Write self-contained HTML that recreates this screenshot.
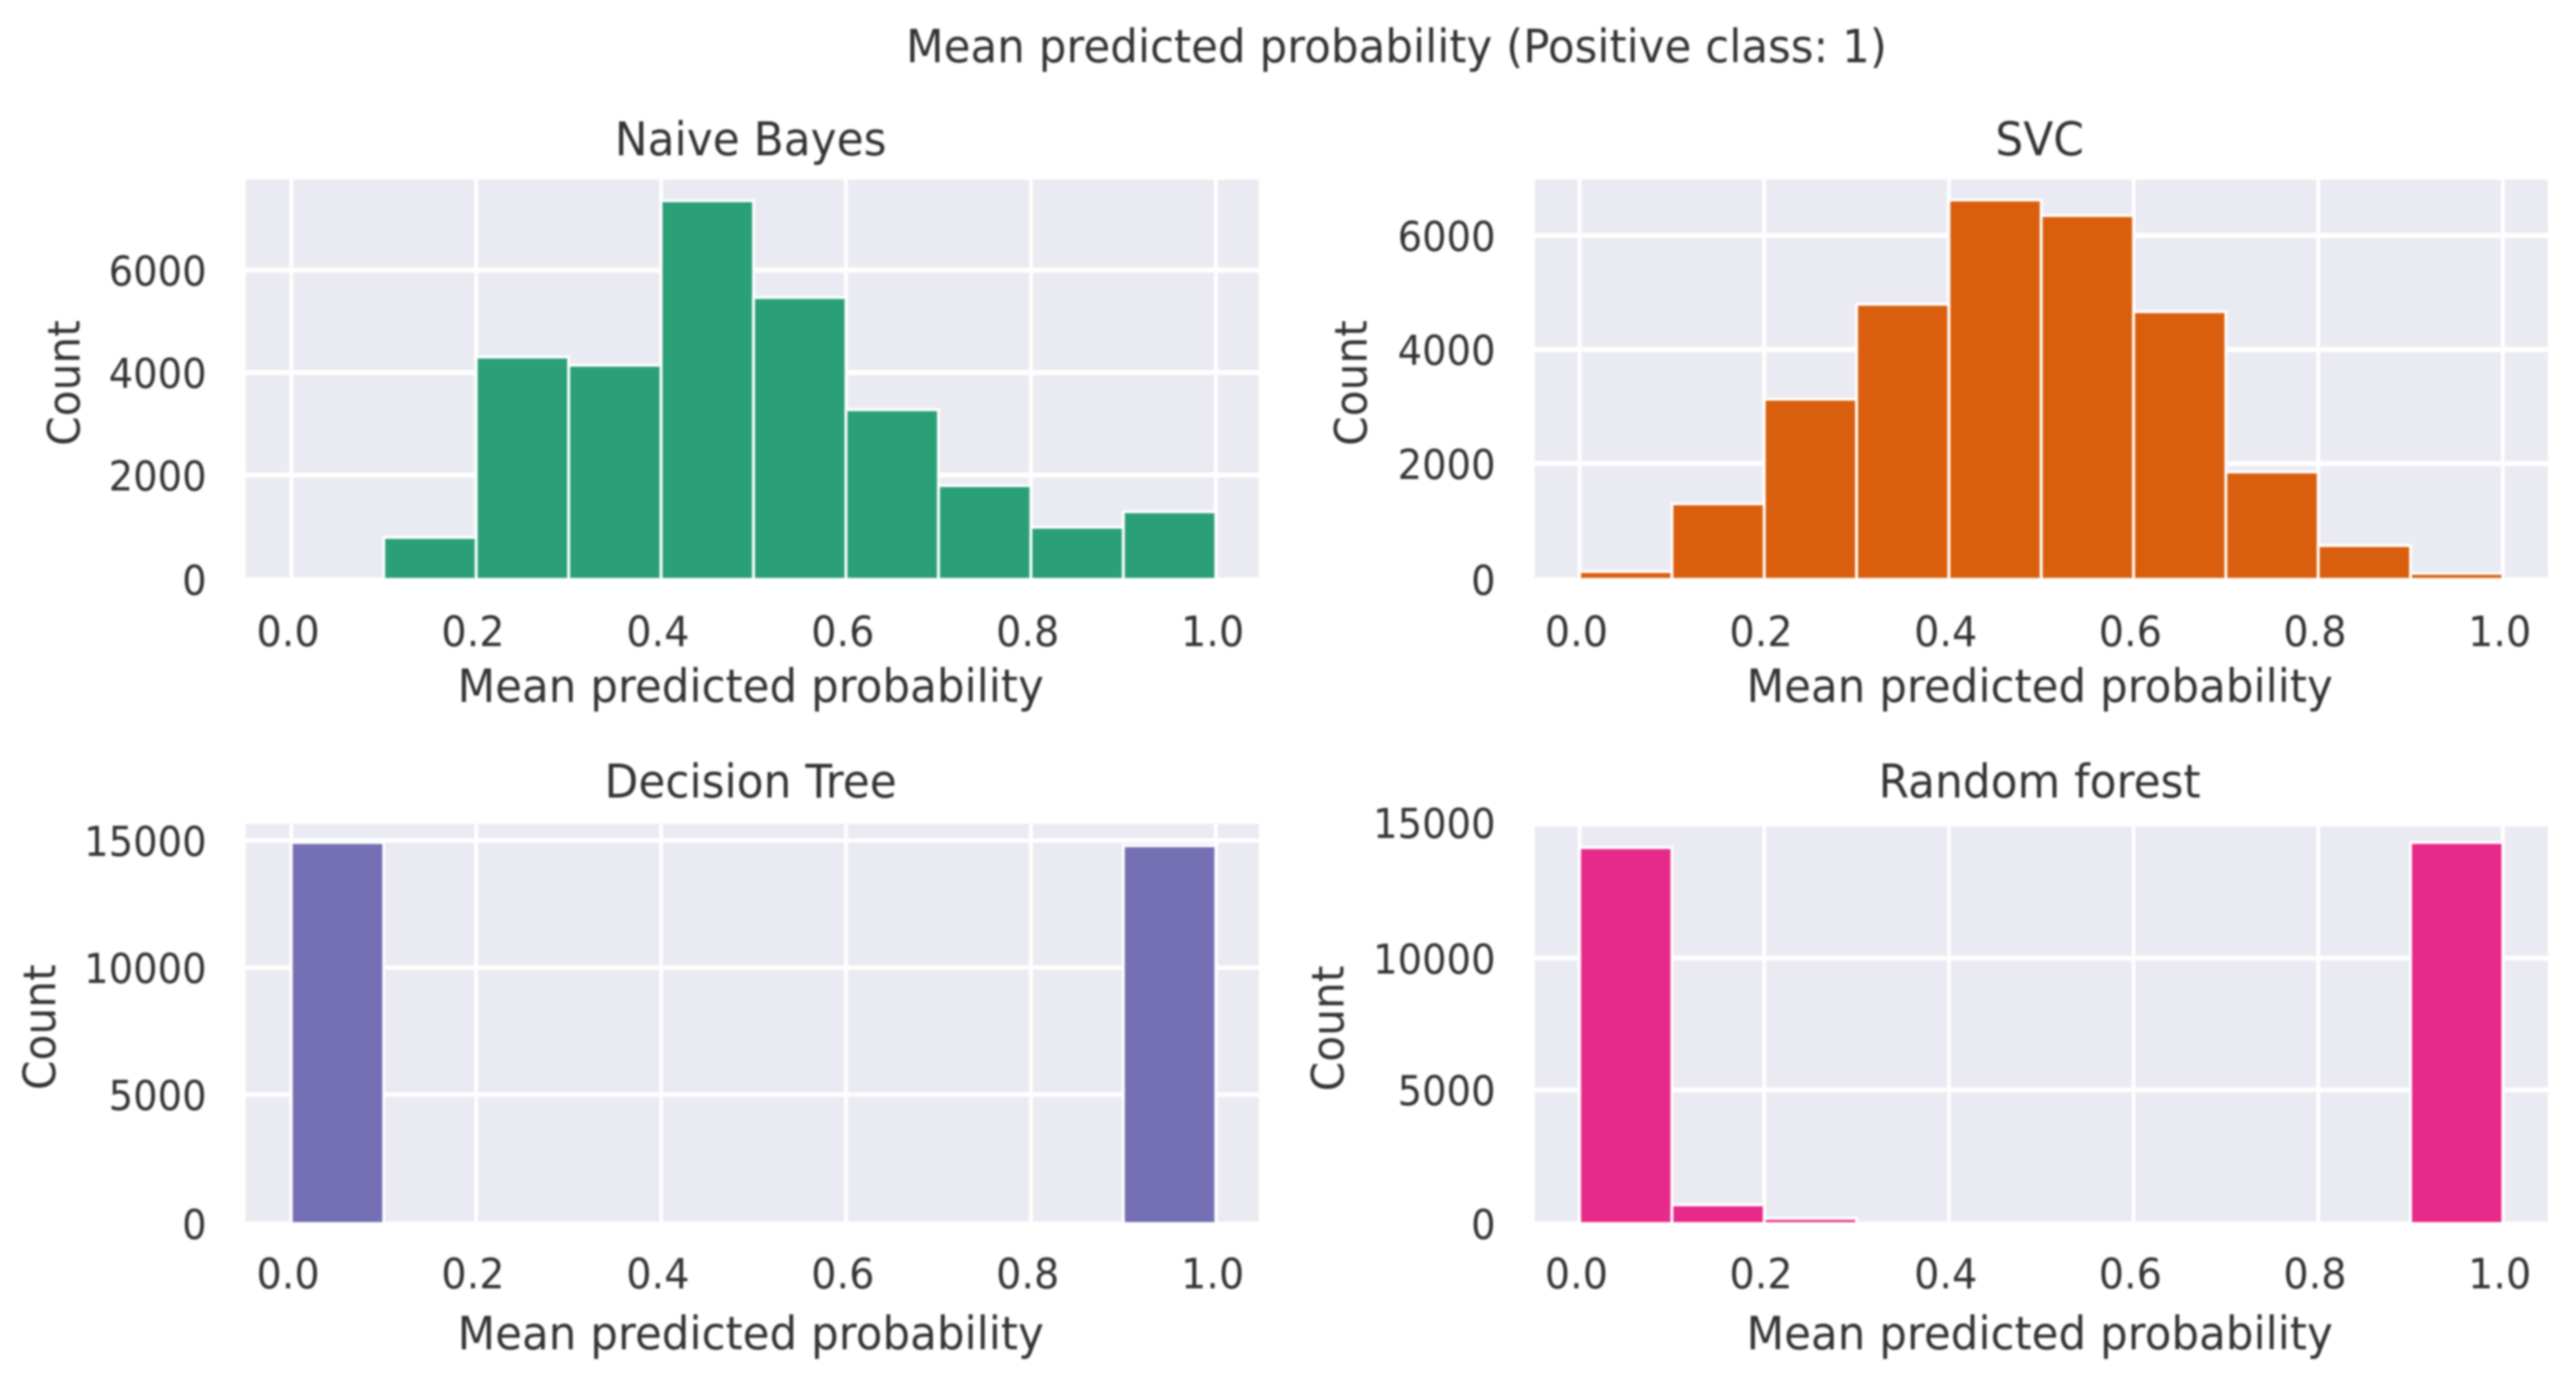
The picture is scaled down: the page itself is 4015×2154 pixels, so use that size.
<!DOCTYPE html>
<html lang="en">
<head>
<meta charset="utf-8">
<title>Mean predicted probability (Positive class: 1)</title>
<style>
  html, body { margin: 0; padding: 0; background: #ffffff; }
  body { width: 4015px; height: 2154px; overflow: hidden; }
  svg { display: block; filter: blur(1.6px); }
  text { font-family: "DejaVu Sans", "Liberation Sans", sans-serif; fill: #333333; }
</style>
</head>
<body>
<svg id="chart" xmlns="http://www.w3.org/2000/svg" width="4015" height="2154" viewBox="0 0 4015 2154">
  <text font-size="68" text-anchor="middle" transform="translate(2176.5 97) scale(1 1.05)">Mean predicted probability (Positive class: 1)</text>
</svg>
<script>
const binEdges = [0, 0.1, 0.2, 0.3, 0.4, 0.5, 0.6, 0.7, 0.8, 0.9, 1.0];
const xTickValues = [0, 0.2, 0.4, 0.6, 0.8, 1.0];
const xTickLabels = ["0.0", "0.2", "0.4", "0.6", "0.8", "1.0"];

const naiveBayesCounts = [0, 781, 4303, 4143, 7355, 5466, 3275, 1793, 980, 1283];
const svcCounts = [104, 1292, 3128, 4793, 6623, 6351, 4664, 1851, 560, 72];
const decisionTreeCounts = [14924, 0, 0, 0, 0, 0, 0, 0, 0, 14798];
const randomForestCounts = [14195, 637, 120, 0, 0, 0, 0, 0, 0, 14390];

const naiveBayesYTicks = [0, 2000, 4000, 6000];
const svcYTicks = [0, 2000, 4000, 6000];
const decisionTreeYTicks = [0, 5000, 10000, 15000];
const randomForestYTicks = [0, 5000, 10000, 15000];

const naiveBayesYMax = 7766;
const svcYMax = 6980;
const decisionTreeYMax = 15660;
const randomForestYMax = 15000;

const SVG_NS = "http://www.w3.org/2000/svg";
const chart = document.getElementById("chart");

function makeEl(tag, attrs, parent) {
  const node = document.createElementNS(SVG_NS, tag);
  Object.keys(attrs).forEach(function (k) { node.setAttribute(k, attrs[k]); });
  parent.appendChild(node);
  return node;
}

function textAt(x, y, size, anchor, stretch, parent) {
  return makeEl("text", { "font-size": size, "text-anchor": anchor, transform: "translate(" + x + " " + y + ") scale(1 " + stretch + ")" }, parent);
}

function drawPanel(opts) {
  const xScale = function (v) { return opts.x0 + v * (opts.x1 - opts.x0); };
  const yScale = function (v) { return opts.bottom - (v / opts.yMax) * (opts.bottom - opts.top); };
  const centerX = (opts.left + opts.right) / 2 - 2.5;

  const group = makeEl("g", {}, chart);
  
  

  const plotArea = makeEl("rect", { x: opts.left, y: opts.top, width: opts.right - opts.left, height: opts.bottom - opts.top, fill: "#eaeaf2" }, group);
  
  

  xTickValues.forEach(function (v, i) {
    const line = makeEl("line", { x1: xScale(v), x2: xScale(v), y1: opts.top, y2: opts.bottom, stroke: "#ffffff", "stroke-width": 6 }, group);
    
    

    const label = textAt(xScale(v) - 5, opts.xTickBaseline, 62, "middle", 1.05, group);
    label.textContent = xTickLabels[i];
    
    
  });

  opts.yTicks.forEach(function (v) {
    if (v > 0 && v < opts.yMax) {
      const line = makeEl("line", { x1: opts.left, x2: opts.right, y1: yScale(v), y2: yScale(v), stroke: "#ffffff", "stroke-width": opts.gridWidth }, group);
      
      
    }
    const baselineShift = v === 0 ? 27 : (v >= opts.yMax ? 18 : 24);
    const label = textAt(opts.yLabelRight, yScale(v) + baselineShift, 60, "end", 1.07, group);
    label.textContent = String(v);
    
    
  });

  opts.counts.forEach(function (count, i) {
    if (count <= 0) { return; }
    const barX = xScale(binEdges[i]);
    const barTop = yScale(count);
    const bar = makeEl("rect", { x: barX, y: barTop, width: xScale(binEdges[i + 1]) - barX, height: opts.bottom + 3 - barTop, fill: opts.color, stroke: "#ffffff", "stroke-width": 4.5 }, group);
    
    
  });

  const title = textAt(centerX, opts.titleBaseline, 68.4, "middle", 1.05, group);
  title.textContent = opts.title;
  
  

  const xLabel = textAt(centerX, opts.xLabelBaseline, 68, "middle", 1.05, group);
  xLabel.textContent = "Mean predicted probability";
  
  

  const yLabelY = (opts.top + opts.bottom) / 2 + 7;
  const yLabel = makeEl("text", { "font-size": 66, "text-anchor": "middle", transform: "translate(" + opts.yTitleX + " " + yLabelY + ") rotate(-90) scale(1 1.05)" }, group);
  yLabel.textContent = "Count";
  
  
}

drawPanel({ name: "naive-bayes", title: "Naive Bayes", counts: naiveBayesCounts, yTicks: naiveBayesYTicks, yMax: naiveBayesYMax, color: "#2ba078",
  left: 383, right: 1962, x0: 454, x1: 1895, top: 280, bottom: 900, gridWidth: 8,
  titleBaseline: 242, xTickBaseline: 1007, xLabelBaseline: 1094, yLabelRight: 322, yTitleX: 124 });

drawPanel({ name: "svc", title: "SVC", counts: svcCounts, yTicks: svcYTicks, yMax: svcYMax, color: "#d95f0e",
  left: 2392, right: 3971, x0: 2462, x1: 3901, top: 280, bottom: 900, gridWidth: 8,
  titleBaseline: 242, xTickBaseline: 1007, xLabelBaseline: 1094, yLabelRight: 2331, yTitleX: 2130 });

drawPanel({ name: "decision-tree", title: "Decision Tree", counts: decisionTreeCounts, yTicks: decisionTreeYTicks, yMax: decisionTreeYMax, color: "#7570b3",
  left: 383, right: 1962, x0: 454, x1: 1895, top: 1284, bottom: 1904, gridWidth: 7,
  titleBaseline: 1243, xTickBaseline: 2008, xLabelBaseline: 2103, yLabelRight: 322, yTitleX: 86 });

drawPanel({ name: "random-forest", title: "Random forest", counts: randomForestCounts, yTicks: randomForestYTicks, yMax: randomForestYMax, color: "#e7298a",
  left: 2392, right: 3971, x0: 2462, x1: 3901, top: 1288, bottom: 1904, gridWidth: 7,
  titleBaseline: 1243, xTickBaseline: 2008, xLabelBaseline: 2103, yLabelRight: 2331, yTitleX: 2094 });
</script>
</body>
</html>
